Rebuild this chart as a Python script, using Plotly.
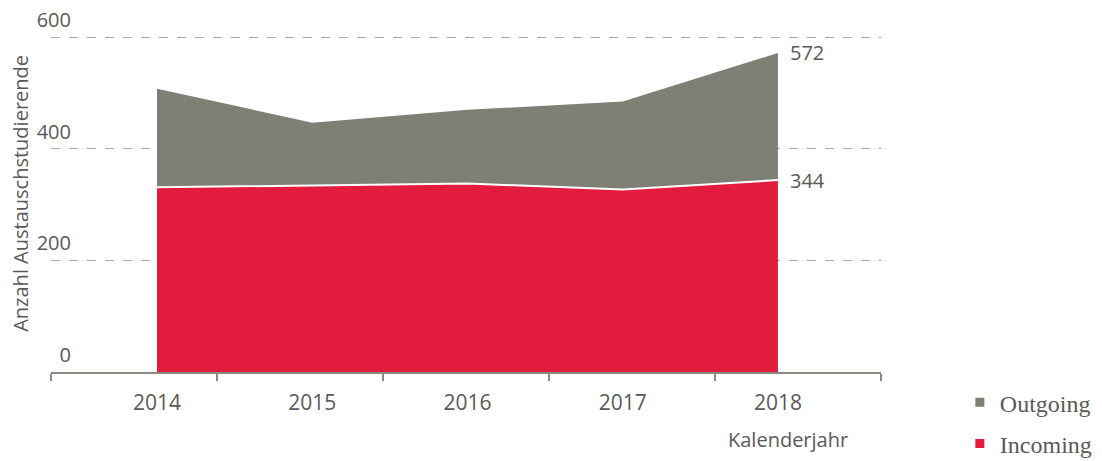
import plotly.graph_objects as go

years = [2014, 2015, 2016, 2017, 2018]
incoming = [331, 334, 338, 327, 344]
outgoing = [177, 113, 132, 158, 228]
total = [i + o for i, o in zip(incoming, outgoing)]

red = "#E31C3D"
grey = "#7F7F75"
txt = "#5A5A5A"
sans = "Open Sans"
serif = "Liberation Serif"

x_lo, x_hi = 2013.317, 2018.664

fig = go.Figure()

fig.add_trace(go.Scatter(
    x=years, y=incoming, stackgroup="a", mode="lines",
    line=dict(color="white", width=2), fillcolor=red,
    showlegend=False, hoverinfo="skip"))
fig.add_trace(go.Scatter(
    x=years, y=outgoing, stackgroup="a", mode="lines",
    line=dict(color=grey, width=0), fillcolor=grey,
    showlegend=False, hoverinfo="skip"))

# legend entries
fig.add_trace(go.Scatter(x=[None], y=[None], mode="markers", name="Outgoing",
                         marker=dict(symbol="square", size=9, color=grey),
                         legendgroup="o"))
fig.add_trace(go.Scatter(x=[None], y=[None], mode="markers", name="Incoming",
                         marker=dict(symbol="square", size=9, color=red),
                         legendgroup="i"))

# end labels
for v in (total[-1], incoming[-1]):
    fig.add_annotation(x=years[-1], y=v, text=str(v), showarrow=False,
                       xanchor="left", xshift=10, yshift=0,
                       font=dict(family=sans, size=20, color=txt))

fig.add_annotation(text="Anzahl Austauschstudierende", textangle=-90,
                   xref="paper", yref="paper", x=-0.037, y=0.5,
                   xanchor="center", yanchor="middle", showarrow=False,
                   font=dict(family=sans, size=20, color=txt))
fig.add_annotation(text="Kalenderjahr", xref="paper", yref="paper",
                   x=0.888, y=-0.19, xanchor="center", yanchor="middle",
                   showarrow=False, font=dict(family=sans, size=20, color=txt))

# page body adds ~8px offset, so plot area is shifted up/left by 8px
fig.update_layout(
    width=1102, height=461,
    margin=dict(l=43, r=229, t=7, b=97, autoexpand=False),
    plot_bgcolor="white", paper_bgcolor="white",
    font=dict(family=sans, size=20, color=txt),
    xaxis=dict(range=[x_lo, x_hi], tickvals=years,
               showgrid=False, zeroline=False, ticks="",
               showline=True, linecolor="#8A8A82", linewidth=2,
               ticklabelstandoff=11, automargin=False,
               tickfont=dict(size=21),
               minor=dict(ticks="outside", tick0=x_lo + 0.0005,
                          dtick=(x_hi - x_lo) / 5, ticklen=7,
                          tickwidth=2, tickcolor="#8A8A82", showgrid=False)),
    yaxis=dict(range=[0, 640], tickvals=[0, 200, 400, 600],
               anchor="free", position=(71 - 51) / 830,
               showgrid=True, gridcolor="#AAAAAA", griddash="dash",
               gridwidth=1, zeroline=False, showline=False, ticks="",
               ticklabelshift=-17, ticklabeloverflow="allow",
               automargin=False, tickfont=dict(size=20)),
    legend=dict(x=1.095, y=-0.023, xanchor="left", yanchor="top",
                font=dict(family=serif, size=24, color=txt),
                tracegroupgap=7),
)

fig.write_html("out.html")
